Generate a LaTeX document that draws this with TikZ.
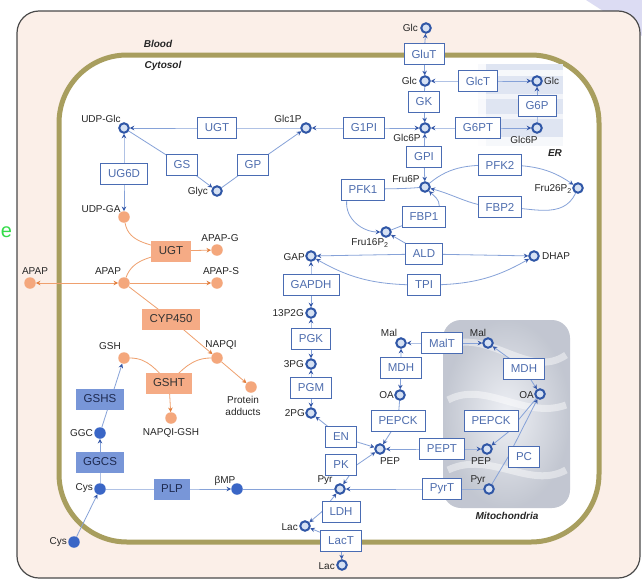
\documentclass[tikz,border=0pt]{standalone}
\usepackage{fontspec}
\setmainfont{Liberation Sans}
\usetikzlibrary{arrows.meta,calc}
\definecolor{peach}{HTML}{FBEFE8}
\definecolor{olivec}{HTML}{A89E5E}
\definecolor{framec}{HTML}{4A4A4A}
\definecolor{lineB}{HTML}{86A2D8}
\definecolor{arrB}{HTML}{3558A8}
\definecolor{boxB}{HTML}{4A6CB3}
\definecolor{txtB}{HTML}{4E6DAE}
\definecolor{metB}{HTML}{2F56A6}
\definecolor{metFill}{HTML}{D6E1F3}
\definecolor{orFill}{HTML}{F4A77C}
\definecolor{orLine}{HTML}{EFA06E}
\definecolor{orArr}{HTML}{E27F3E}
\definecolor{orBox}{HTML}{F5AB85}
\definecolor{bfFill}{HTML}{3A66C6}
\definecolor{bfBox}{HTML}{7896D8}
\definecolor{lav}{HTML}{DCDCF3}
\definecolor{mitoc}{HTML}{D4D9E5}
\definecolor{erc}{HTML}{DFE5F2}
\definecolor{greene}{HTML}{35DC4A}
\pgfdeclarelayer{bg}
\pgfsetlayers{bg,main}
\tikzset{
 enz/.style={draw=boxB, line width=0.9pt, fill=white, text=txtB, font=\fontsize{11.5}{13}\selectfont, inner xsep=7.5pt, inner ysep=0pt, minimum height=21pt},
 enzO/.style={enz, draw=none, fill=orBox, text=black!80},
 enzF/.style={enz, draw=none, fill=bfBox, text={rgb,255:red,30;green,42;blue,80}},
 met/.style={circle, draw=metB, line width=2pt, fill=metFill, minimum size=9.5pt, inner sep=0pt},
 metO/.style={circle, fill=orFill, minimum size=11.5pt, inner sep=0pt},
 metF/.style={circle, fill=bfFill, minimum size=11.5pt, inner sep=0pt},
 lab/.style={font=\fontsize{10}{11}\selectfont, text=black!85, inner sep=0pt},
 regl/.style={font=\bfseries\itshape\fontsize{10}{12}\selectfont, text=black!85, inner sep=0pt},
 bl/.style={draw=lineB, line width=0.8pt},
 ol/.style={draw=orLine, line width=0.8pt},
 fa/.style={-{Stealth[length=4.5pt,width=4.5pt,color=arrB]}},
 fb/.style={{Stealth[length=4.5pt,width=4.5pt,color=arrB]}-{Stealth[length=4.5pt,width=4.5pt,color=arrB]}},
 oar/.style={-{Stealth[length=4.5pt,width=4.5pt,color=orArr]}},
 obr/.style={{Stealth[length=4.5pt,width=4.5pt,color=orArr]}-{Stealth[length=4.5pt,width=4.5pt,color=orArr]}},
}
\begin{document}
\begin{tikzpicture}[x=1pt,y=1pt]
\useasboundingbox (0,0) rectangle (642,-581);
\begin{pgfonlayer}{bg}
\fill[white] (0,0) rectangle (642,-581);
\fill[lav] (586,0) -- (642,0) -- (642,-36) -- cycle;
\draw[framec, line width=1.2pt, fill=peach, rounded corners=22pt] (17,-11) rectangle (640,-578);
\draw[olivec, line width=5pt, fill=white, rounded corners=68pt] (59,-55) rectangle (599,-542);
% ER
\fill[erc] (478,-64) rectangle (563,-146);
\fill[white,opacity=0.75] (478,-70) rectangle (563,-76);
\fill[white,opacity=0.6] (478,-94) rectangle (563,-99);
\fill[white,opacity=0.6] (478,-114) rectangle (563,-119);
\fill[white,opacity=0.75] (478,-137) rectangle (563,-146);
\fill[white,opacity=0.8] (478,-64) rectangle (486,-146);
% Mitochondria
\shade[inner color=mitoc!40, outer color=mitoc!90!black!95, rounded corners=18pt] (443,-320) rectangle (570,-508);
\draw[white,opacity=0.45,line width=7pt] (450,-345) .. controls (490,-330) and (530,-380) .. (566,-355);
\draw[white,opacity=0.45,line width=7pt] (448,-400) .. controls (485,-380) and (525,-420) .. (566,-405);
\draw[white,opacity=0.45,line width=7pt] (448,-470) .. controls (490,-450) and (530,-490) .. (566,-470);
\end{pgfonlayer}

% region labels
\node[regl] (lblood) at (158,-44) {Blood};
\node[regl] (lcyto) at (163,-66) {Cytosol};
\node[regl] (ler) at (555,-153) {ER};
\node[regl] (lmito) at (507,-516) {Mitochondria};
\node[text=greene, font=\fontsize{20}{22}\selectfont, inner sep=0pt] (ge) at (6.5,-232) {e};

% blue open metabolites
\node[met] (glcB) at (426,-28) {};
\node[met] (glcC) at (425,-81) {};
\node[met] (glcER) at (537,-81) {};
\node[met] (g6pC) at (425,-128) {};
\node[met] (g6pER) at (537,-128) {};
\node[met] (glc1p) at (306,-128) {};
\node[met] (udpglc) at (124,-128) {};
\node[met] (glyc) at (217,-191) {};
\node[met] (fru6p) at (425,-187) {};
\node[met] (fru26p2) at (578,-188) {};
\node[met] (fru16p2) at (386,-232) {};
\node[met] (gap) at (311,-256) {};
\node[met] (dhap) at (534,-256) {};
\node[met] (p13g) at (311,-313) {};
\node[met] (pg3) at (311,-364) {};
\node[met] (pg2) at (311,-413) {};
\node[met] (malC) at (401,-343) {};
\node[met] (malM) at (488,-343) {};
\node[met] (oaC) at (400,-395) {};
\node[met] (oaM) at (540,-394) {};
\node[met] (pepC) at (380,-449) {};
\node[met] (pepM) at (487,-449) {};
\node[met] (pyrC) at (340,-489) {};
\node[met] (pyrM) at (489,-489) {};
\node[met] (lacC) at (305,-526) {};
\node[met] (lacB) at (342,-565) {};
% orange metabolites
\node[metO] (udpga) at (124,-217) {};
\node[metO] (apapB) at (30,-283) {};
\node[metO] (apapC) at (124,-283) {};
\node[metO] (apapG) at (217,-250) {};
\node[metO] (apapS) at (217,-283) {};
\node[metO] (napqi) at (217,-358) {};
\node[metO] (gsh) at (124,-358) {};
\node[metO] (napqigsh) at (171,-418) {};
\node[metO] (prot) at (251,-387) {};
% blue filled metabolites
\node[metF] (ggc) at (100,-433) {};
\node[metF] (cysC) at (100,-489) {};
\node[metF] (cysB) at (74,-542) {};
\node[metF] (bmp) at (237,-489) {};

% labels
\node[lab,anchor=east] (tglcB) at (418,-28) {Glc};
\node[lab,anchor=east] (tglcC) at (417,-81) {Glc};
\node[lab,anchor=west] (tglcER) at (544,-81) {Glc};
\node[lab] (tg6pC) at (407,-138) {Glc6P};
\node[lab] (tg6pER) at (524,-140) {Glc6P};
\node[lab] (tglc1p) at (288,-119) {Glc1P};
\node[lab] (tudpglc) at (101,-119) {UDP-Glc};
\node[lab,anchor=east] (tglyc) at (208,-192) {Glyc};
\node[lab] (tfru6p) at (406,-179) {Fru6P};
\node[lab,anchor=east] (tfru26) at (572,-189) {Fru26P\textsubscript{2}};
\node[lab] (tfru16) at (370,-243) {Fru16P\textsubscript{2}};
\node[lab,anchor=east] (tgap) at (305,-257) {GAP};
\node[lab,anchor=west] (tdhap) at (542,-256) {DHAP};
\node[lab,anchor=east] (tp13g) at (304,-313) {13P2G};
\node[lab,anchor=east] (tpg3) at (304,-364) {3PG};
\node[lab,anchor=east] (tpg2) at (305,-413) {2PG};
\node[lab] (tmalC) at (389,-333) {Mal};
\node[lab] (tmalM) at (478,-333) {Mal};
\node[lab,anchor=east] (toaC) at (394,-395) {OA};
\node[lab,anchor=east] (toaM) at (534,-395) {OA};
\node[lab] (tpepC) at (390,-461) {PEP};
\node[lab] (tpepM) at (481,-461) {PEP};
\node[lab] (tpyrC) at (325,-480) {Pyr};
\node[lab] (tpyrM) at (478,-480) {Pyr};
\node[lab,anchor=east] (tlacC) at (298,-527) {Lac};
\node[lab,anchor=east] (tlacB) at (335,-566) {Lac};
\node[lab] (tudpga) at (101,-209) {UDP-GA};
\node[lab] (tapapB) at (35,-271) {APAP};
\node[lab] (tapapC) at (108,-271) {APAP};
\node[lab] (tapapG) at (220,-238) {APAP-G};
\node[lab] (tapapS) at (221,-271) {APAP-S};
\node[lab] (tnapqi) at (221,-345) {NAPQI};
\node[lab] (tgsh) at (110,-346) {GSH};
\node[lab] (tnapqigsh) at (171,-433) {NAPQI-GSH};
\node[lab,align=center] (tprot) at (243,-406) {Protein\\[1pt]adducts};
\node[lab,anchor=east] (tggc) at (93,-433) {GGC};
\node[lab,anchor=east] (tcysC) at (93,-488) {Cys};
\node[lab,anchor=east] (tcysB) at (67,-542) {Cys};
\node[lab] (tbmp) at (225,-481) {βMP};

% enzymes (blue outline)
\node[enz] (glut) at (424,-54) {GluT};
\node[enz] (glct) at (478,-81) {GlcT};
\node[enz] (gk) at (424,-102) {GK};
\node[enz] (g6p) at (537,-106) {G6P};
\node[enz] (g1pi) at (364,-128) {G1PI};
\node[enz] (g6pt) at (478,-128) {G6PT};
\node[enz] (gpi) at (424,-157) {GPI};
\node[enz] (ugtB) at (217,-128) {UGT};
\node[enz] (gs) at (182,-165) {GS};
\node[enz] (gp) at (253,-165) {GP};
\node[enz] (ug6d) at (124,-174) {UG6D};
\node[enz] (pfk2) at (500,-165) {PFK2};
\node[enz] (pfk1) at (363,-190) {PFK1};
\node[enz] (fbp2) at (500,-207) {FBP2};
\node[enz] (fbp1) at (424,-217) {FBP1};
\node[enz] (ald) at (424,-254) {ALD};
\node[enz] (tpi) at (424,-285) {TPI};
\node[enz] (gapdh) at (311,-285) {GAPDH};
\node[enz] (pgk) at (311,-339) {PGK};
\node[enz] (pgm) at (311,-388) {PGM};
\node[enz] (malt) at (442,-343) {MalT};
\node[enz] (mdhC) at (401,-368) {MDH};
\node[enz] (mdhM) at (524,-369) {MDH};
\node[enz] (pepckC) at (398,-421) {PEPCK};
\node[enz] (pepckM) at (491,-421) {PEPCK};
\node[enz] (en) at (341,-437) {EN};
\node[enz] (pept) at (442,-449) {PEPT};
\node[enz] (pc) at (524,-457) {PC};
\node[enz] (pk) at (341,-465) {PK};
\node[enz] (pyrt) at (442,-489) {PyrT};
\node[enz] (ldh) at (341,-512) {LDH};
\node[enz] (lact) at (341,-541) {LacT};
% orange enzymes
\node[enzO] (ugtO) at (171,-251) {UGT};
\node[enzO] (cyp) at (171,-319) {CYP450};
\node[enzO] (gsht) at (169,-383) {GSHT};
% blue filled enzymes
\node[enzF] (gshs) at (100,-399) {GSHS};
\node[enzF] (ggcs) at (100,-462) {GGCS};
\node[enzF] (plp) at (172,-489) {PLP};

\begin{pgfonlayer}{bg}
% glucose
\draw[bl,fb] (glcC) -- (glut.center) -- (glcB);
\draw[bl,fa] (glcC) -- (gk.center) -- (g6pC);
\draw[bl,fb] (glcC) -- (glct.center) -- (glcER);
\draw[bl,fa] (g6pER) -- (g6p.center) -- (glcER);
\draw[bl,fb] (g6pC) -- (g6pt.center) -- (g6pER);
\draw[bl,fb] (glc1p) -- (g1pi.center) -- (g6pC);
\draw[bl,fb] (g6pC) -- (gpi.center) -- (fru6p);
\draw[bl,fa] (glc1p) -- (ugtB.center) -- (udpglc);
\draw[bl,fa] (udpglc) -- (gs.center) -- (glyc);
\draw[bl,fa] (glyc) -- (gp.center) -- (glc1p);
\draw[bl,fb] (udpglc) -- (ug6d.center) -- (udpga);
% fructose cycles
\draw[bl] (fru6p) to[out=185,in=5] (pfk1.center);
\draw[bl,fa] ($(pfk1.south west)+(6,0)$) to[out=-95,in=180] (fru16p2);
\draw[bl] (fru16p2) -- (fbp1.center);
\draw[bl,fa] ($(fbp1.north east)+(-7,0)$) to[out=90,in=-45] (fru6p);
\draw[bl] (fru6p) to[out=40,in=180] (pfk2.center);
\draw[bl,fa] (pfk2.center) to[out=0,in=145] (fru26p2);
\draw[bl] (fru26p2) to[out=-115,in=0] (fbp2.center);
\draw[bl,fa] (fbp2.center) to[out=180,in=-15] (fru6p);
\draw[bl,fa] (ald.center) -- (fru16p2);
\draw[bl,fa] (ald.center) -- (gap);
\draw[bl,fa] (ald.center) -- (dhap);
\draw[bl,fa] (tpi.center) to[out=180,in=-30] (gap);
\draw[bl,fa] (tpi.center) to[out=0,in=-150] (dhap);
% lower glycolysis
\draw[bl,fb] (gap) -- (gapdh.center) -- (p13g);
\draw[bl,fb] (p13g) -- (pgk.center) -- (pg3);
\draw[bl,fb] (pg3) -- (pgm.center) -- (pg2);
\draw[bl,fb] (pg2) -- (en.center) -- (pepC);
\draw[bl,fb] (pepC) -- (pk.east) -- (pyrC);
\draw[bl,fb] (pyrC) -- (ldh.west) -- (lacC);
\draw[bl,fb] (lacC) -- (lact.center) -- (lacB);
% malate / oxaloacetate
\draw[bl,fb] (malC) -- (malt.center) -- (malM);
\draw[bl,fb] (malC) -- (mdhC.center) -- (oaC);
\draw[bl,fb] (malM) -- (mdhM.center) -- (oaM);
\draw[bl,fa] (oaC) -- (pepckC.center) -- (pepC);
\draw[bl,fa] (oaM) -- ($(pepckM.south east)+(-10,0)$) -- (pepM);
\draw[bl,fb] (pepM) -- (pept.center) -- (pepC);
\draw[bl,fa] (pyrM) -- (pc.west) -- (oaM);
\draw[bl,fa] (pyrM) -- (pyrt.center) -- (pyrC);
% GSH synthesis
\draw[bl,fa] (cysB) -- (cysC);
\draw[bl,fa] (cysC) -- (ggcs.center) -- (ggc);
\draw[bl,fa] (ggc) -- (gsh);
\draw[bl,fa] (cysC) -- (plp.center) -- (bmp);
\draw[bl] (bmp) -- (pyrC);
% APAP
\draw[ol] (udpga) to[out=-80,in=160] (ugtO.center);
\draw[ol] (apapC) to[out=70,in=200] (ugtO.center);
\draw[ol,oar] (ugtO) -- (apapG);
\draw[ol,obr] (apapB) -- (apapC);
\draw[ol,oar] (apapC) -- (apapS);
\draw[ol,oar] (apapC) -- (cyp.center) -- (napqi);
\draw[ol,oar] (napqi) -- (prot);
\draw[ol] (gsh) to[out=0,in=135] (gsht.center);
\draw[ol] (napqi) to[out=180,in=45] (gsht.center);
\draw[ol,oar] (gsht) -- (napqigsh);
\end{pgfonlayer}
\end{tikzpicture}
\end{document}
